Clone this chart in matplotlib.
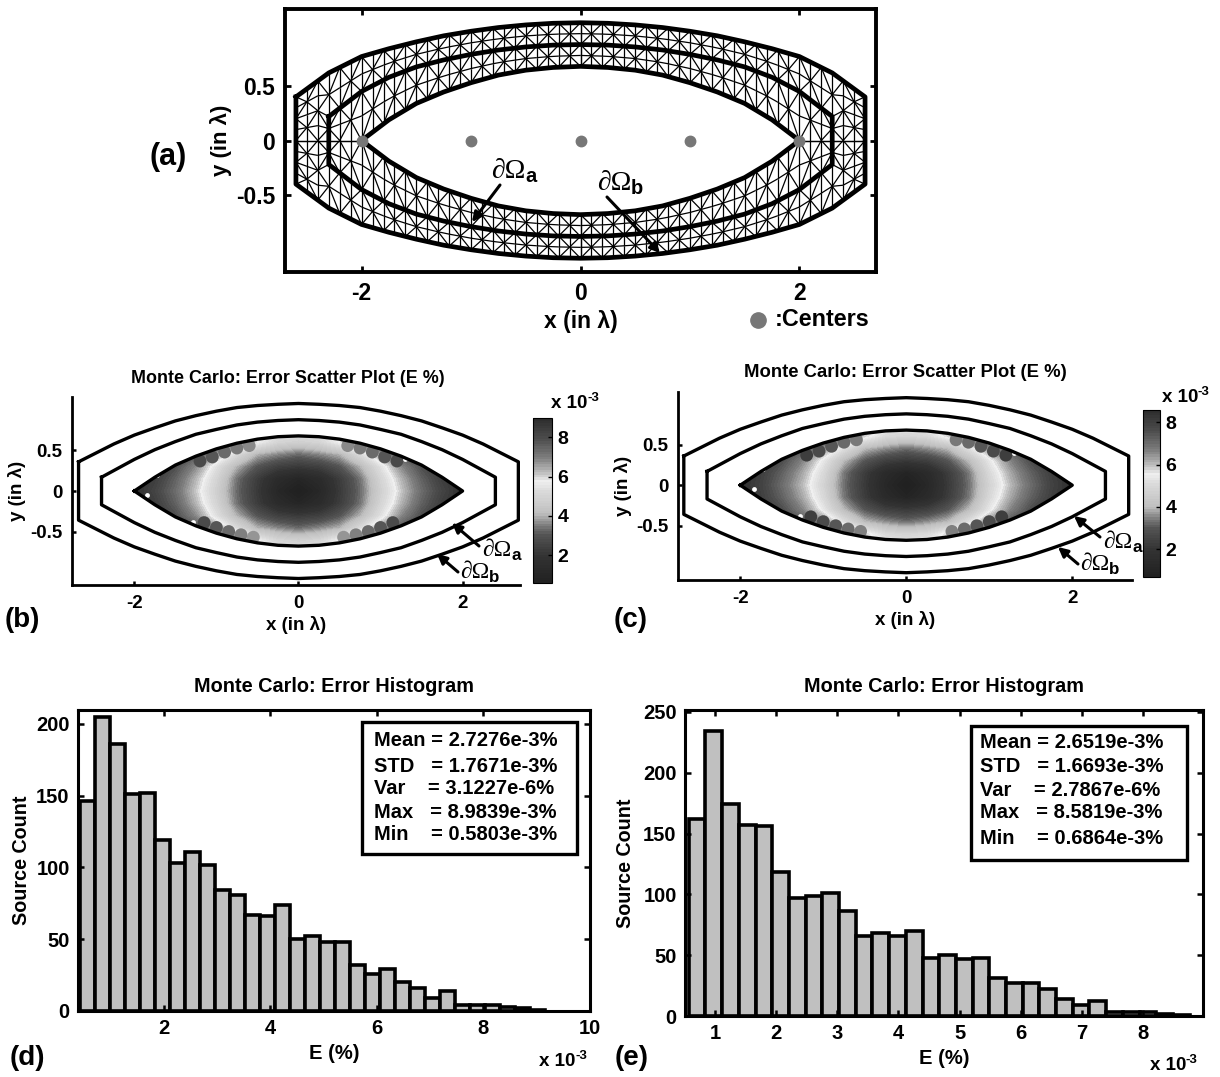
import numpy as np
import matplotlib
matplotlib.use('Agg')
import matplotlib.pyplot as plt
from matplotlib.collections import LineCollection
from matplotlib.colors import LinearSegmentedColormap
from matplotlib.patches import Polygon, Rectangle

plt.rcParams['font.family'] = ['Liberation Sans', 'DejaVu Sans']
plt.rcParams['font.weight'] = 'bold'
plt.rcParams['axes.unicode_minus'] = False

W, H = 1220, 1077

# boundaries, upper right quarter
inner_x = [0, 0.25, 0.5, 0.75, 1.0, 1.25, 1.5, 1.75, 2.0]
inner_y = [0.68, 0.67, 0.645, 0.60, 0.53, 0.445, 0.34, 0.19, 0.0]
omega_a_x = [0, 0.25, 0.5, 0.75, 1.0, 1.25, 1.5, 1.75, 2.0, 2.3]
omega_a_y = [0.88, 0.875, 0.858, 0.83, 0.79, 0.739, 0.675, 0.58, 0.45, 0.22]
omega_b_x = [0, 0.25, 0.5, 0.75, 1.0, 1.25, 1.5, 1.75, 2.0, 2.3, 2.6]
omega_b_y = [1.08, 1.075, 1.06, 1.036, 1.002, 0.96, 0.905, 0.842, 0.77, 0.62, 0.40]
centers_x = [-2, -1, 0, 1, 2]
centers_y = [0, 0, 0, 0, 0]

# same boundaries as drawn in panels (b), (c)
scat_inner_y = [0.68, 0.67, 0.64, 0.59, 0.52, 0.43, 0.32, 0.17, 0.0]
scat_a_x = [0, 0.25, 0.5, 0.75, 1.0, 1.25, 1.5, 1.75, 2.0, 2.4]
scat_a_y = [0.88, 0.87, 0.85, 0.815, 0.76, 0.70, 0.61, 0.51, 0.39, 0.17]
scat_b_x = [0, 0.25, 0.5, 0.75, 1.0, 1.25, 1.5, 1.75, 2.0, 2.25, 2.68]
scat_b_y = [1.08, 1.07, 1.055, 1.03, 0.985, 0.93, 0.865, 0.78, 0.69, 0.58, 0.36]

# E field of the scatter plots (x 1e-3), one quarter: rows y=0..0.75, cols x=0..2
field_x = [0, 0.25, 0.5, 0.75, 1.0, 1.25, 1.5, 1.75, 2.0]
field_y = [0, 0.15, 0.3, 0.45, 0.6, 0.75]
field_b = [[0.6, 1.1, 2.2, 3.3, 4.8, 6.1, 7.3, 8.2, 8.9],
           [1.0, 1.4, 2.3, 3.4, 5.0, 6.3, 7.5, 8.4, 8.9],
           [2.2, 2.4, 3.0, 4.0, 5.4, 6.8, 7.9, 8.6, 8.9],
           [3.3, 3.6, 4.0, 5.2, 6.6, 7.7, 8.5, 8.9, 8.9],
           [4.8, 5.0, 5.8, 7.2, 7.8, 8.3, 8.9, 8.9, 8.9],
           [5.5, 5.6, 6.2, 7.3, 8.0, 8.5, 8.9, 8.9, 8.9]]
field_c = [[0.7, 1.2, 2.2, 3.3, 4.8, 6.0, 7.0, 7.9, 8.5],
           [1.0, 1.4, 2.3, 3.4, 5.0, 6.2, 7.2, 8.0, 8.5],
           [2.2, 2.4, 3.0, 4.0, 5.4, 6.6, 7.6, 8.3, 8.5],
           [3.3, 3.6, 4.0, 5.2, 6.5, 7.4, 8.1, 8.5, 8.5],
           [4.8, 5.0, 5.8, 7.0, 7.5, 8.0, 8.5, 8.5, 8.5],
           [5.5, 5.6, 6.2, 7.2, 7.8, 8.2, 8.5, 8.5, 8.5]]

# single sources that stand out along the edge of the lens
edge_dots_x = [0.6, 0.75, 0.9, 1.05, 1.2, -0.6, -0.75, -0.9, -1.05, -1.2,
               0.55, 0.7, 0.85, 1.0, 1.15, -0.55, -0.7, -0.85, -1.0, -1.15]
edge_dots_y = [0.56, 0.53, 0.48, 0.42, 0.37, 0.56, 0.53, 0.48, 0.42, 0.37,
               -0.57, -0.54, -0.50, -0.45, -0.39, -0.57, -0.54, -0.50, -0.45, -0.39]
edge_dots_e = [6.8, 7.1, 7.4, 7.7, 8.0, 6.8, 7.1, 7.4, 7.7, 8.0,
               6.7, 7.0, 7.4, 7.7, 8.0, 6.7, 7.0, 7.4, 7.7, 8.0]
gaps_x = [-1.84, -1.28, 1.3, -1.72]
gaps_y = [-0.05, -0.38, 0.4, 0.2]

# histograms
counts_d = [146, 205, 186, 151, 152, 119, 103, 111, 102, 84, 81, 67, 66, 74, 50, 52,
            48, 48, 32, 26, 29, 20, 16, 9, 14, 4, 4, 4, 3, 2, 1]
counts_e = [162, 234, 174, 157, 156, 118, 97, 99, 101, 86, 66, 68, 66, 70, 48, 50,
            47, 48, 31, 27, 27, 22, 14, 9, 12, 3, 3, 3, 2, 1]
bin_start_d, bin_width_d = 0.42, 0.2816
bin_start_e, bin_width_e = 0.572, 0.273

stats_d = ['Mean = 2.7276e-3%', 'STD   = 1.7671e-3%', 'Var    = 3.1227e-6%',
           'Max   = 8.9839e-3%', 'Min    = 0.5803e-3%']
stats_e = ['Mean = 2.6519e-3%', 'STD   = 1.6693e-3%', 'Var    = 2.7867e-6%',
           'Max   = 8.5819e-3%', 'Min    = 0.6864e-3%']

# gray map of the colorbars
cmap_pos = [0, 0.16, 0.29, 0.35, 0.42, 0.56, 0.62, 0.66, 0.76, 0.88, 1]
cmap_gray = [0.13, 0.2, 0.33, 0.5, 0.75, 0.86, 0.94, 0.78, 0.5, 0.3, 0.18]
error_cmap = LinearSegmentedColormap.from_list(
    'err', [(p, (g, g, g)) for p, g in zip(cmap_pos, cmap_gray)], N=64)


def px_axes(left, top, right, bottom):
    return fig.add_axes([left / W, 1 - bottom / H, (right - left) / W, (bottom - top) / H])


def curve(xs, ys):
    # closed outline from the upper right quarter
    xs, ys = np.array(xs), np.array(ys)
    top_x = np.concatenate([-xs[::-1], xs[1:]])
    top_y = np.concatenate([ys[::-1], ys[1:]])
    return np.concatenate([top_x, top_x[::-1]]), np.concatenate([top_y, -top_y[::-1]])


def draw_boundaries(ax, shapes, lw):
    for xs, ys in shapes:
        cx, cy = curve(xs, ys)
        ax.plot(np.append(cx, cx[0]), np.append(cy, cy[0]), color='k', lw=lw,
                solid_joinstyle='round', zorder=3)


def mesh_segments():
    cols = np.round(np.arange(0, 2.61, 0.1), 2)
    levels = []
    for x in cols:
        if x <= 2.3:
            low = np.interp(x, inner_x, inner_y)
            mid = np.interp(x, omega_a_x, omega_a_y)
            top = np.interp(x, omega_b_x, omega_b_y)
            levels.append([low, (low + mid) / 2, mid, (mid + top) / 2, top])
        else:
            top = np.interp(x, omega_b_x, omega_b_y)
            levels.append(list(np.linspace(0, top, 5)))
    levels = np.array(levels)
    segs = []
    for i in range(len(cols)):
        for j in range(4):
            segs.append([(cols[i], levels[i, j]), (cols[i], levels[i, j + 1])])
    for i in range(len(cols) - 1):
        for j in range(5):
            segs.append([(cols[i], levels[i, j]), (cols[i + 1], levels[i + 1, j])])
        for j in range(4):
            if (i + j) % 2 == 0:
                segs.append([(cols[i], levels[i, j]), (cols[i + 1], levels[i + 1, j + 1])])
            else:
                segs.append([(cols[i], levels[i, j + 1]), (cols[i + 1], levels[i + 1, j])])
    all_segs = []
    for sx in (1, -1):
        for sy in (1, -1):
            all_segs += [[(sx * a[0], sy * a[1]), (sx * b[0], sy * b[1])] for a, b in segs]
    return all_segs


def scatter_panel(rect, field, vmax, vmin, cbar_rect):
    ax = px_axes(*rect[:4])
    q = np.array(field)
    rows = np.vstack([q[:0:-1], q])
    full = np.hstack([rows[:, :0:-1], rows])
    dx, dy = field_x[1] - field_x[0], field_y[1] - field_y[0]
    im = ax.imshow(full, origin='lower', aspect='auto', cmap=error_cmap, vmin=vmin, vmax=vmax,
                   interpolation='bilinear',
                   extent=(-field_x[-1] - dx / 2, field_x[-1] + dx / 2,
                           -field_y[-1] - dy / 2, field_y[-1] + dy / 2))
    cx, cy = curve(inner_x, scat_inner_y)
    lens = Polygon(np.column_stack([cx, cy]), transform=ax.transData)
    im.set_clip_path(lens)
    dots = ax.scatter(edge_dots_x, edge_dots_y, c=edge_dots_e, cmap=error_cmap, vmin=vmin, vmax=vmax, s=85, linewidths=0, zorder=2)
    dots.set_clip_path(lens)
    ax.scatter(gaps_x, gaps_y, c='white', s=12, linewidths=0, zorder=2)
    draw_boundaries(ax, [(inner_x, scat_inner_y), (scat_a_x, scat_a_y), (scat_b_x, scat_b_y)], 2.4)
    ax.set_xlim(rect[4], rect[5])
    ax.set_ylim(rect[6], rect[7])
    ax.set_xticks([-2, 0, 2])
    ax.set_yticks([-0.5, 0, 0.5])
    ax.set_yticklabels(['-0.5', '0', '0.5'])
    ax.tick_params(direction='in', length=3, width=1.8, labelsize=13.5, pad=7)
    for s in ('top', 'right'):
        ax.spines[s].set_visible(False)
    for s in ('left', 'bottom'):
        ax.spines[s].set_linewidth(2)
    ax.set_xlabel('x (in λ)', fontsize=13.5, fontweight='bold', labelpad=3)
    ax.set_ylabel('y (in λ)', fontsize=13.5, fontweight='bold', labelpad=3)
    ax.patch.set_alpha(0)

    cax = px_axes(*cbar_rect)
    cb = fig.colorbar(im, cax=cax, ticks=[2, 4, 6, 8])
    cb.ax.tick_params(direction='in', length=3, width=1, labelsize=14, pad=4)
    cb.outline.set_linewidth(0.8)
    return ax


def hist_panel(rect, counts, start, width, xticks, yticks, ypad):
    ax = px_axes(*rect[:4])
    lefts = start + width * np.arange(len(counts))
    ax.bar(lefts, counts, width=width, align='edge', color='#c0c0c0', edgecolor='k', linewidth=2.6)
    ax.set_xlim(rect[4], rect[5])
    ax.set_ylim(rect[6], rect[7])
    ax.set_xticks(xticks)
    ax.set_yticks(yticks)
    ax.tick_params(direction='in', top=True, right=True, length=4, width=1.8, labelsize=14.5, pad=6)
    for s in ax.spines.values():
        s.set_linewidth(2.2)
    ax.set_xlabel('E (%)', fontsize=14.5, fontweight='bold', labelpad=4)
    ax.set_ylabel('Source Count', fontsize=14.2, fontweight='bold', labelpad=ypad)
    ax.set_title('Monte Carlo: Error Histogram', fontsize=14.3, fontweight='bold', pad=13)
    return ax


fig = plt.figure(figsize=(W / 100, H / 100), dpi=100)

# panel (a)
ax_a = px_axes(285, 9, 876, 272)
ax_a.add_collection(LineCollection(mesh_segments(), colors='#000000', linewidths=0.9, zorder=2))
draw_boundaries(ax_a, [(inner_x, inner_y), (omega_a_x, omega_a_y), (omega_b_x, omega_b_y)], 3.4)
ax_a.plot(centers_x, centers_y, 'o', color='#777777', ms=7.5, zorder=4)
ax_a.set_xlim(-2.70, 2.70)
ax_a.set_ylim(-1.206, 1.206)
ax_a.set_xticks([-2, 0, 2])
ax_a.set_yticks([-0.5, 0, 0.5])
ax_a.set_yticklabels(['-0.5', '0', '0.5'])
ax_a.tick_params(direction='in', top=True, right=True, length=4, width=2, labelsize=16.5, pad=7)
for s in ax_a.spines.values():
    s.set_linewidth(2.8)
ax_a.set_xlabel('x (in λ)', fontsize=16.5, fontweight='bold', labelpad=4)
ax_a.set_ylabel('y (in λ)', fontsize=16, fontweight='bold', labelpad=3)

# panels (b), (c)
ax_b = scatter_panel((72, 397, 520, 585, -2.76, 2.70, -1.16, 1.16), field_b, 8.98, 0.58, (533, 418, 552, 583))
ax_c = scatter_panel((678, 392, 1132, 580, -2.75, 2.72, -1.17, 1.15), field_c, 8.58, 0.69, (1143, 410, 1160, 577))
ax_b.set_title('Monte Carlo: Error Scatter Plot (E %)', fontsize=12.9, fontweight='bold', pad=10, x=0.482)
ax_c.set_title('Monte Carlo: Error Scatter Plot (E %)', fontsize=13.3, fontweight='bold', pad=11)

# panels (d), (e)
hist_panel((78, 710, 590, 1011, 0.39, 10, 0, 209.7), counts_d, bin_start_d, bin_width_d, [2, 4, 6, 8, 10], [0, 50, 100, 150, 200], 4)
hist_panel((685, 710, 1203, 1016, 0.51, 8.98, 0, 251.6), counts_e, bin_start_e, bin_width_e, range(1, 9), [0, 50, 100, 150, 200, 250], 6)

# overlay in image pixels for labels and arrows
over = fig.add_axes([0, 0, 1, 1])
over.set_xlim(0, W)
over.set_ylim(H, 0)
over.axis('off')
over.patch.set_alpha(0)

for label, x, y, size in [('(a)', 168, 157, 22), ('(b)', 22, 620, 20), ('(c)', 631, 620, 20), ('(d)', 27, 1058, 20), ('(e)', 632, 1058, 20)]:
    over.text(x, y, label, fontsize=size, fontweight='bold', ha='center', va='center')

arrows = [('a', 514, 171, 500, 185, 472, 222, 20), ('b', 620, 183, 607, 197, 660, 253, 20),
          ('a', 502, 551, 479, 546, 452, 523, 17), ('b', 480, 572, 458, 572, 437, 554, 17),
          ('a', 1123, 543, 1100, 537, 1074, 516, 17), ('b', 1100, 565, 1078, 564, 1058, 547, 17)]
for name, tx, ty, x0, y0, x1, y1, size in arrows:
    over.text(tx + size * 0.55, ty, '∂Ω', fontsize=size, fontweight='normal', family='Liberation Serif', ha='right', va='center')
    over.text(tx + size * 0.55, ty + 5, name, fontsize=size * 0.72, fontweight='bold', ha='left', va='center')
    over.annotate('', xy=(x1, y1), xytext=(x0, y0), arrowprops=dict(arrowstyle='-|>', color='k', lw=2.2, mutation_scale=14, shrinkA=0, shrinkB=0))

over.plot([758], [320], 'o', color='#777777', ms=11)
over.text(775, 319, ':Centers', fontsize=16.8, fontweight='bold', va='center')
for x, y in [(551, 404), (1162, 398), (539, 1062), (1150, 1066)]:
    over.text(x, y, 'x 10', fontsize=13.5, fontweight='bold', va='center')
    over.text(x + 36, y - 6, '-3', fontsize=9.5, fontweight='bold', va='center')

for (x0, y0, x1, y1), lines, tx, ys in [((362, 722, 577, 854), stats_d, 374, [741, 766, 789, 812, 835]),
                                        ((971, 726, 1187, 860), stats_e, 980, [743, 767, 790, 813, 838])]:
    over.add_patch(Rectangle((x0, y0), x1 - x0, y1 - y0, fc='white', ec='k', lw=2.4, zorder=5))
    for line, y in zip(lines, ys):
        over.text(tx, y, line, fontsize=14.5, fontweight='bold', va='center', zorder=6)

fig.savefig('out.png', dpi=100)
